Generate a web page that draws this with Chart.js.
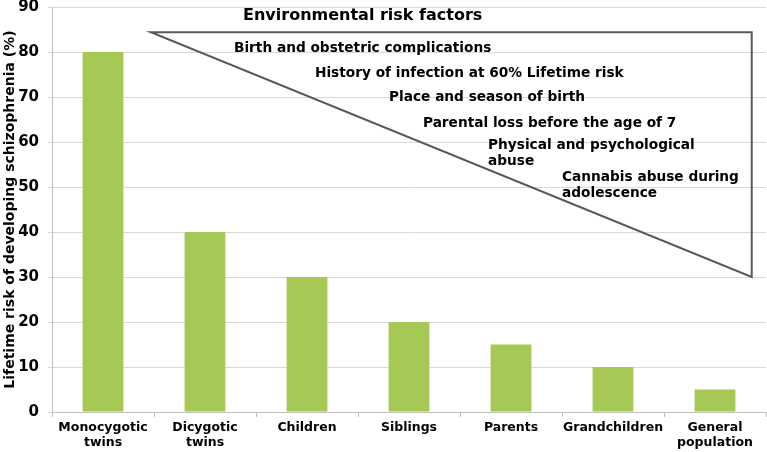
<!DOCTYPE html>
<html>
<head>
<meta charset="utf-8">
<script src="https://cdn.jsdelivr.net/npm/chart.js@4.4.1/dist/chart.umd.min.js"></script>
<style>
    body { margin: 0; background: #fff; }
    #wrap { width: 767px; height: 452px; }
</style>
</head>
<body>
<div id="wrap"><canvas id="riskChart" width="767" height="452"></canvas></div>
<script>
// Chart data
const categories = [['Monocygotic', 'twins'], ['Dicygotic', 'twins'], 'Children', 'Siblings', 'Parents', 'Grandchildren', ['General', 'population']];
const riskValues = [80, 40, 30, 20, 15, 10, 5];
const yMin = 0;
const yMax = 90;
const yStep = 10;

// Environmental risk factors overlay (in category / value units)
const overlayTitle = 'Environmental risk factors';
const triangleX = [0.47, 6.36, 6.36];
const triangleY = [84.4, 84.4, 30];
const factorLines = [
    ['Birth and obstetric complications'],
    ['History of infection at 60% Lifetime risk'],
    ['Place and season of birth'],
    ['Parental loss before the age of 7'],
    ['Physical and psychological', 'abuse'],
    ['Cannabis abuse during', 'adolescence']
];
const factorX = [1.284, 2.078, 2.804, 3.137, 3.775, 4.5];
const factorY = [80.7, 75.3, 69.8, 64.2, 59.3, 52.2];

const FONT = "'DejaVu Sans', Verdana, sans-serif";

const overlayPlugin = {
    id: 'riskOverlay',
    afterDatasetsDraw(chart) {
        const { ctx, scales: { x, y } } = chart;
        ctx.save();

        // triangle
        ctx.beginPath();
        triangleX.forEach((v, i) => {
            const px = x.getPixelForValue(v);
            const py = y.getPixelForValue(triangleY[i]);
            if (i === 0) ctx.moveTo(px, py); else ctx.lineTo(px, py);
        });
        ctx.closePath();
        ctx.strokeStyle = '#595959';
        ctx.lineWidth = 2;
        ctx.stroke();

        // title
        ctx.fillStyle = '#000';
        ctx.textAlign = 'left';
        ctx.textBaseline = 'middle';
        ctx.font = 'bold 16px ' + FONT;
        ctx.fillText(overlayTitle, x.getPixelForValue(1.373), y.getPixelForValue(88));

        // factor labels
        ctx.font = 'bold 13.7px ' + FONT;
        factorLines.forEach((lines, i) => {
            const px = x.getPixelForValue(factorX[i]);
            const py = y.getPixelForValue(factorY[i]);
            lines.forEach((line, j) => {
                ctx.fillText(line, px, py + j * 16);
            });
        });
        ctx.restore();
    }
};

new Chart(document.getElementById('riskChart'), {
    type: 'bar',
    data: {
        labels: categories,
        datasets: [{
            data: riskValues,
            backgroundColor: '#a6c855',
            categoryPercentage: 1,
            barPercentage: 0.4
        }]
    },
    options: {
        responsive: false,
        animation: false,
        layout: { padding: { top: 7, right: 1, left: 0, bottom: 0 } },
        plugins: {
            legend: { display: false },
            tooltip: { enabled: false }
        },
        scales: {
            x: {
                grid: {
                    drawOnChartArea: false,
                    drawTicks: true,
                    tickLength: 5,
                    color: '#bfbfbf'
                },
                border: { color: '#bfbfbf', width: 1 },
                ticks: {
                    color: '#000',
                    padding: 3,
                    maxRotation: 0,
                    autoSkip: false,
                    font: { family: FONT, size: 12.5, weight: 'bold', lineHeight: 1.2 }
                },
                afterFit(scale) { scale.height = 40; }
            },
            y: {
                min: yMin,
                max: yMax,
                grid: {
                    color: '#d9d9d9',
                    tickLength: 4
                },
                border: { color: '#bfbfbf', width: 1 },
                ticks: {
                    stepSize: yStep,
                    color: '#000',
                    padding: 9,
                    font: { family: FONT, size: 15, weight: 'bold' }
                },
                title: {
                    display: true,
                    text: 'Lifetime risk of developing schizophrenia (%)',
                    color: '#000',
                    padding: { top: 2, bottom: 0 },
                    font: { family: FONT, size: 14, weight: 'bold' }
                },
                afterFit(scale) {
                    scale.width = 52;
                    scale.paddingTop = 0;
                }
            }
        }
    },
    plugins: [overlayPlugin]
});
</script>
</body>
</html>
